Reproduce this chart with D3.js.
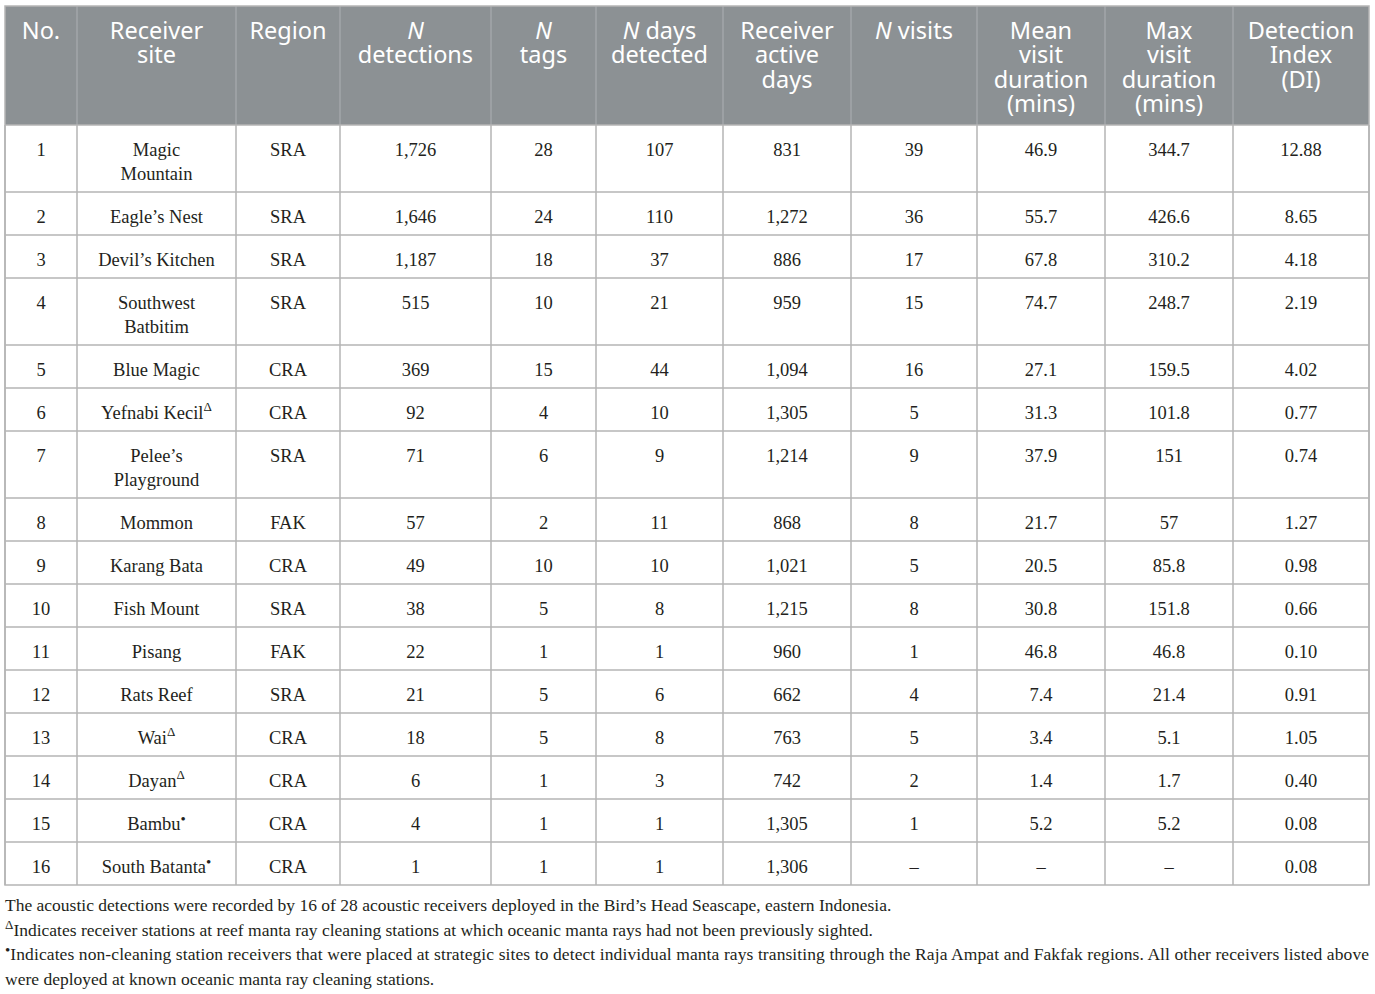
<!DOCTYPE html>
<html lang="en">
<head>
   <meta charset="UTF-8">
   <title>Acoustic receiver detections</title>
   <script src="https://cdn.jsdelivr.net/npm/d3@7"></script>
   <style>
       body { margin: 0; background: #fff; }
       .head { font-family: "Noto Sans", sans-serif; fill: #fff; }
       .cell { font-family: "Liberation Serif", "Times New Roman", serif; fill: #231f20; }
       .note { font-family: "Liberation Serif", "Times New Roman", serif; fill: #231f20; }
   </style>
</head>
<body>
   <svg id="table" width="1375" height="994"></svg>

   <script>
       // table content
       const headers = [
           ["No."],
           ["Receiver", "site"],
           ["Region"],
           ["N", "detections"],
           ["N", "tags"],
           ["N days", "detected"],
           ["Receiver", "active", "days"],
           ["N visits"],
           ["Mean", "visit", "duration", "(mins)"],
           ["Max", "visit", "duration", "(mins)"],
           ["Detection", "Index", "(DI)"]
       ];
       const sites = ["Magic\nMountain", "Eagle\u2019s Nest", "Devil\u2019s Kitchen", "Southwest\nBatbitim", "Blue Magic",
           "Yefnabi Kecil", "Pelee\u2019s\nPlayground", "Mommon", "Karang Bata", "Fish Mount", "Pisang",
           "Rats Reef", "Wai", "Dayan", "Bambu", "South Batanta"];
       const siteMarks = ["", "", "", "", "", "\u0394", "", "", "", "", "", "", "\u0394", "\u0394", "\u2022", "\u2022"];
       const regions = ["SRA", "SRA", "SRA", "SRA", "CRA", "CRA", "SRA", "FAK", "CRA", "SRA", "FAK", "SRA", "CRA", "CRA", "CRA", "CRA"];
       const detections = [1726, 1646, 1187, 515, 369, 92, 71, 57, 49, 38, 22, 21, 18, 6, 4, 1];
       const tags = [28, 24, 18, 10, 15, 4, 6, 2, 10, 5, 1, 5, 5, 1, 1, 1];
       const daysDetected = [107, 110, 37, 21, 44, 10, 9, 11, 10, 8, 1, 6, 8, 3, 1, 1];
       const activeDays = [831, 1272, 886, 959, 1094, 1305, 1214, 868, 1021, 1215, 960, 662, 763, 742, 1305, 1306];
       const visits = [39, 36, 17, 15, 16, 5, 9, 8, 5, 8, 1, 4, 5, 2, 1, null];
       const meanDuration = [46.9, 55.7, 67.8, 74.7, 27.1, 31.3, 37.9, 21.7, 20.5, 30.8, 46.8, 7.4, 3.4, 1.4, 5.2, null];
       const maxDuration = [344.7, 426.6, 310.2, 248.7, 159.5, 101.8, 151, 57, 85.8, 151.8, 46.8, 21.4, 5.1, 1.7, 5.2, null];
       const detectionIndex = [12.88, 8.65, 4.18, 2.19, 4.02, 0.77, 0.74, 1.27, 0.98, 0.66, 0.10, 0.91, 1.05, 0.40, 0.08, 0.08];

       const footnotes = [
           { mark: "", text: "The acoustic detections were recorded by 16 of 28 acoustic receivers deployed in the Bird\u2019s Head Seascape, eastern Indonesia." },
           { mark: "\u0394", text: "Indicates receiver stations at reef manta ray cleaning stations at which oceanic manta rays had not been previously sighted." },
           { mark: "\u2022", text: "Indicates non-cleaning station receivers that were placed at strategic sites to detect individual manta rays transiting through the Raja Ampat and Fakfak regions. All other receivers listed above", justify: true },
           { mark: "", text: "were deployed at known oceanic manta ray cleaning stations." }
       ];

       // layout
       const colEdges = [5, 77, 236, 340, 491, 596, 723, 851, 977, 1105, 1233, 1369];
       const tableTop = 6, headerH = 119, lineH = 24.5;
       const dash = "\u2013";
       const fmtInt = d3.format(",");

       const rows = sites.map((s, i) => ({
           cells: [
               [String(i + 1)],
               s.split("\n"),
               [regions[i]],
               [fmtInt(detections[i])],
               [String(tags[i])],
               [String(daysDetected[i])],
               [fmtInt(activeDays[i])],
               [visits[i] == null ? dash : String(visits[i])],
               [meanDuration[i] == null ? dash : String(meanDuration[i])],
               [maxDuration[i] == null ? dash : String(maxDuration[i])],
               [detectionIndex[i].toFixed(2)]
           ],
           mark: siteMarks[i]
       }));
       rows.forEach(r => r.h = 19 + 24 * d3.max(r.cells, c => c.length));
       const rowTops = [0, ...d3.cumsum(rows, r => r.h)].map(v => v + tableTop + headerH);
       const tableBottom = rowTops[rows.length];

       const colMid = i => (colEdges[i] + colEdges[i + 1]) / 2;

       const svg = d3.select("#table");

       // header
       svg.append("rect")
           .attr("x", colEdges[0]).attr("y", tableTop)
           .attr("width", colEdges[colEdges.length - 1] - colEdges[0]).attr("height", headerH)
           .attr("fill", "#8c9194");

       svg.append("g").selectAll("line")
           .data(colEdges.slice(1, -1))
           .join("line")
           .attr("x1", d => d).attr("x2", d => d)
           .attr("y1", tableTop).attr("y2", tableTop + headerH)
           .attr("stroke", "#a6aaad").attr("stroke-width", 1.3);

       const head = svg.append("g").attr("class", "head");
       headers.forEach((lines, ci) => {
           const t = head.append("text")
               .attr("x", colMid(ci))
               .attr("text-anchor", "middle")
               .attr("font-size", 23.5);
           lines.forEach((ln, li) => {
               const m = ln.match(/^N( .*)?$/);
               const ts = t.append("tspan").attr("x", colMid(ci)).attr("y", tableTop + 32.5 + li * lineH);
               if (m) {
                   ts.append("tspan").attr("font-style", "italic").text("N");
                   if (m[1]) ts.append("tspan").text(m[1]);
               } else {
                   ts.text(ln);
               }
           });
       });

       // body grid
       const grid = svg.append("g").attr("stroke", "#b5b5b5").attr("stroke-width", 1.5);
       grid.selectAll(".hline")
           .data(rowTops.slice(0, -1))
           .join("line")
           .attr("x1", colEdges[0]).attr("x2", colEdges[colEdges.length - 1])
           .attr("y1", d => d).attr("y2", d => d);
       grid.selectAll(".vline")
           .data(colEdges)
           .join("line")
           .attr("x1", d => d).attr("x2", d => d)
           .attr("y1", tableTop + headerH).attr("y2", tableBottom);
       grid.append("rect")
           .attr("x", colEdges[0]).attr("y", tableTop)
           .attr("width", colEdges[colEdges.length - 1] - colEdges[0])
           .attr("height", tableBottom - tableTop)
           .attr("fill", "none");

       // body text
       const body = svg.append("g").attr("class", "cell").attr("font-size", 18.5);
       rows.forEach((r, ri) => {
           r.cells.forEach((lines, ci) => {
               const t = body.append("text")
                   .attr("text-anchor", "middle");
               lines.forEach((ln, li) => {
                   t.append("tspan")
                       .attr("x", colMid(ci))
                       .attr("y", rowTops[ri] + 30.5 + li * 24.5)
                       .text(ln);
               });
               if (ci === 1 && r.mark) {
                   t.append("tspan")
                       .attr("font-size", r.mark === "\u0394" ? 13 : 15)
                       .attr("dy", r.mark === "\u0394" ? -8 : -6)
                       .text(r.mark);
               }
           });
       });

       // footnotes
       const notes = svg.append("g").attr("class", "note").attr("font-size", 17.5);
       footnotes.forEach((n, i) => {
           const t = notes.append("text")
               .attr("x", colEdges[0])
               .attr("y", tableBottom + 26 + i * 24.7);
           if (n.mark) {
               t.append("tspan")
                   .attr("font-size", n.mark === "\u0394" ? 13 : 15)
                   .attr("dy", n.mark === "\u0394" ? -7 : -5)
                   .text(n.mark);
               t.append("tspan").attr("dy", n.mark === "\u0394" ? 7 : 5).text(n.text);
           } else {
               t.text(n.text);
           }
           if (n.justify) {
               t.attr("textLength", colEdges[colEdges.length - 1] - colEdges[0]).attr("lengthAdjust", "spacing");
           }
       });
   </script>
</body>
</html>
